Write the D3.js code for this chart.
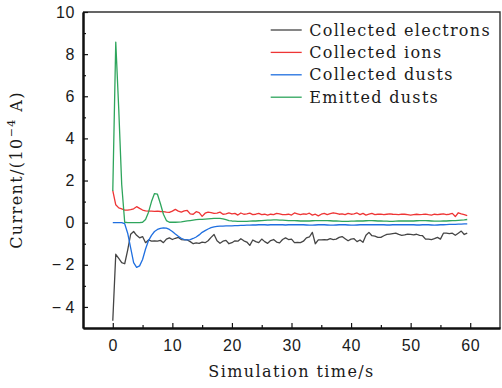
<!DOCTYPE html>
<html>
<head>
<meta charset="utf-8">
<script src="https://cdn.jsdelivr.net/npm/d3@7"></script>
<style>
  body { margin: 0; background: #fff; }
  svg { display: block; font-family: "DejaVu Serif", serif; }
</style>
</head>
<body>
<svg id="chart" width="502" height="388"></svg>
<script>
// sampling step of the simulation output (s)
const STEP = 0.5;

const seriesNames = ['Collected electrons', 'Collected ions', 'Collected dusts', 'Emitted dusts'];
const seriesColors = ['#454545', '#ee3535', '#1f6fe0', '#2ea55c'];

// one row = 5 s
const electrons = [
  -4.66, -1.5, -1.7, -1.9, -1.95, -1.3, -0.55, -0.42, -0.6, -0.72,
  -0.66, -0.95, -0.82, -0.88, -0.86, -0.88, -0.84, -0.95, -0.78, -0.72,
  -0.8, -0.74, -0.7, -0.8, -0.82, -0.82, -0.9, -1.0, -0.96, -0.98,
  -0.92, -0.95, -0.86, -0.7, -0.56, -0.86, -0.98, -0.88, -0.84, -1.0,
  -0.95, -0.86, -0.88, -0.76, -0.86, -0.92, -1.08, -0.82, -0.9, -0.95,
  -0.78, -0.9, -0.98, -0.85, -0.8, -0.92, -0.96, -0.8, -0.72, -0.8,
  -0.78, -0.95, -0.94, -0.95, -0.88, -0.72, -0.68, -0.46, -1.0, -0.82,
  -0.82, -0.8, -0.82, -0.76, -0.8, -0.78, -0.7, -0.66, -0.76, -0.86,
  -0.78, -0.76, -0.9, -0.82, -0.93, -0.6, -0.46, -0.62, -0.64, -0.7,
  -0.7, -0.62, -0.56, -0.54, -0.52, -0.5, -0.56, -0.6, -0.58, -0.54,
  -0.56, -0.58, -0.55, -0.6, -0.62, -0.78, -0.78, -0.8, -0.76, -0.7,
  -0.78, -0.5, -0.5, -0.52, -0.5, -0.6, -0.5, -0.4, -0.56, -0.5
];

const ions = [
  1.52, 0.85, 0.7, 0.65, 0.6, 0.6, 0.62, 0.66, 0.76, 0.68,
  0.6, 0.56, 0.55, 0.55, 0.54, 0.55, 0.53, 0.52, 0.5, 0.49,
  0.55, 0.63, 0.55, 0.5, 0.56, 0.58, 0.42, 0.4, 0.52, 0.48,
  0.3, 0.45, 0.5, 0.48, 0.44, 0.45, 0.5, 0.4, 0.42, 0.46,
  0.42, 0.44, 0.36, 0.46, 0.4, 0.42, 0.45, 0.38, 0.4, 0.44,
  0.38, 0.4, 0.36, 0.4, 0.38, 0.44, 0.42, 0.38, 0.38, 0.4,
  0.36, 0.46, 0.42, 0.38, 0.42, 0.4, 0.45, 0.36, 0.4, 0.32,
  0.4, 0.44, 0.38, 0.43, 0.47, 0.44, 0.4, 0.42, 0.38, 0.44,
  0.4, 0.42, 0.46, 0.38, 0.44, 0.36, 0.4, 0.44, 0.38, 0.4,
  0.41, 0.38, 0.4, 0.42, 0.4, 0.39, 0.38, 0.41, 0.4, 0.38,
  0.36, 0.38, 0.4, 0.38, 0.39, 0.41, 0.38, 0.36, 0.4, 0.38,
  0.4, 0.42, 0.38, 0.4, 0.44, 0.29, 0.47, 0.42, 0.38, 0.33
];

const dusts = [
  0, 0, 0, 0, -0.05, -0.5, -1.2, -1.9, -2.12, -2.05,
  -1.75, -1.25, -0.85, -0.6, -0.42, -0.32, -0.27, -0.25, -0.26, -0.32,
  -0.42, -0.54, -0.65, -0.74, -0.8, -0.82, -0.8, -0.75, -0.68, -0.58,
  -0.46, -0.38, -0.3, -0.24, -0.2, -0.18, -0.16, -0.16, -0.15, -0.15,
  -0.15, -0.14, -0.14, -0.13, -0.13, -0.12, -0.12, -0.11, -0.11, -0.1,
  -0.1, -0.1, -0.11, -0.1, -0.1, -0.09, -0.1, -0.1, -0.11, -0.1,
  -0.1, -0.1, -0.09, -0.1, -0.1, -0.11, -0.12, -0.12, -0.11, -0.1,
  -0.1, -0.1, -0.11, -0.12, -0.12, -0.11, -0.1, -0.1, -0.1, -0.11,
  -0.12, -0.12, -0.11, -0.1, -0.1, -0.1, -0.1, -0.1, -0.09, -0.1,
  -0.1, -0.1, -0.11, -0.11, -0.1, -0.1, -0.09, -0.1, -0.1, -0.1,
  -0.1, -0.1, -0.11, -0.11, -0.1, -0.1, -0.1, -0.11, -0.12, -0.11,
  -0.1, -0.1, -0.09, -0.08, -0.08, -0.08, -0.07, -0.07, -0.06, -0.06
];

const emitted = [
  1.5, 8.57, 5.4, 1.8, 0.02, 0, 0, 0, 0, 0,
  0.02, 0.15, 0.5, 1.0, 1.38, 1.35, 0.9, 0.4, 0.1, 0.02,
  0.02, 0.02, 0.03, 0.04, 0.06, 0.08, 0.1, 0.12, 0.14, 0.16,
  0.16, 0.17, 0.18, 0.19, 0.2, 0.2, 0.2, 0.18, 0.14, 0.1,
  0.08, 0.07, 0.06, 0.06, 0.06, 0.06, 0.07, 0.08, 0.08, 0.09,
  0.1, 0.11, 0.12, 0.12, 0.13, 0.13, 0.12, 0.12, 0.11, 0.1,
  0.1, 0.1, 0.09, 0.08, 0.08, 0.08, 0.08, 0.09, 0.1, 0.1,
  0.1, 0.1, 0.1, 0.09, 0.08, 0.08, 0.07, 0.06, 0.06, 0.06,
  0.07, 0.07, 0.08, 0.08, 0.08, 0.09, 0.1, 0.1, 0.09, 0.08,
  0.08, 0.07, 0.07, 0.06, 0.06, 0.07, 0.08, 0.08, 0.08, 0.08,
  0.08, 0.08, 0.09, 0.1, 0.1, 0.1, 0.09, 0.08, 0.07, 0.07,
  0.07, 0.08, 0.08, 0.09, 0.1, 0.1, 0.11, 0.12, 0.13, 0.15
];

const xTicks = [0, 10, 20, 30, 40, 50, 60];
const yTicks = [-4, -2, 0, 2, 4, 6, 8, 10];

const allSeries = [electrons, ions, dusts, emitted];

const margin = {top: 12, right: 2, bottom: 60, left: 83},
  width = 502 - margin.left - margin.right,
  height = 388 - margin.top - margin.bottom;

const x = d3.scaleLinear().domain([-5, 65]).range([0, width]);
const y = d3.scaleLinear().domain([-5, 10]).range([height, 0]);

const svg = d3.select('#chart')
  .append('g')
  .attr('transform', 'translate(' + margin.left + ',' + margin.top + ')');

// lines
const line = d3.line()
  .x((d, i) => x(i * STEP))
  .y(d => y(d));

svg.selectAll('path.series')
  .data(allSeries)
  .enter().append('path')
  .attr('class', 'series')
  .attr('fill', 'none')
  .attr('stroke', (d, i) => seriesColors[i])
  .attr('stroke-width', 1.3)
  .attr('stroke-linejoin', 'round')
  .attr('d', line);

// frame (top / right)
svg.append('path')
  .attr('d', 'M0,0H' + width + 'V' + height)
  .attr('fill', 'none')
  .attr('stroke', '#333')
  .attr('stroke-width', 1.4);

// axes, ticks inward
const xAxis = d3.axisBottom(x).tickValues(xTicks).tickSizeInner(-5).tickSizeOuter(0).tickPadding(12);
const xMinor = d3.axisBottom(x).tickValues(d3.range(5, 60, 10)).tickSizeInner(-3).tickSizeOuter(0).tickFormat('');
const fmt = v => v < 0 ? '\u2212\u2009' + Math.abs(v) : '' + v;
const yAxis = d3.axisLeft(y).tickValues(yTicks).tickSizeInner(-5).tickSizeOuter(0).tickPadding(8).tickFormat(fmt);
const yMinor = d3.axisLeft(y).tickValues(d3.range(-3, 10, 2)).tickSizeInner(-3).tickSizeOuter(0).tickFormat('');

function styleAxis(g) {
  g.select('.domain').attr('stroke', '#111').attr('stroke-width', 2);
  g.selectAll('.tick line').attr('stroke', '#111').attr('stroke-width', 1.2);
  g.selectAll('.tick text').attr('fill', '#1a1a1a')
    .style('font-size', '16px').style('letter-spacing', '0.6px');
}

svg.append('g').attr('transform', 'translate(0,' + height + ')').call(xMinor).call(styleAxis);
svg.append('g').attr('transform', 'translate(0,' + height + ')').call(xAxis).call(styleAxis);
svg.append('g').call(yMinor).call(styleAxis);
svg.append('g').call(yAxis).call(styleAxis);

// axis titles
svg.append('text')
  .attr('x', width / 2)
  .attr('y', height + 49)
  .attr('text-anchor', 'middle')
  .style('font-size', '16px')
  .style('letter-spacing', '1.4px')
  .attr('fill', '#1a1a1a')
  .text('Simulation time/s');

const yLabel = svg.append('text')
  .attr('transform', 'translate(' + (-61) + ',' + (height / 2) + ') rotate(-90)')
  .attr('text-anchor', 'middle')
  .style('font-size', '16px')
  .style('letter-spacing', '1.4px')
  .attr('fill', '#1a1a1a');
yLabel.append('tspan').text('Current/(10');
yLabel.append('tspan').attr('dy', -7).style('font-size', '11px').text('\u22124');
yLabel.append('tspan').attr('dy', 7).text(' A)');

// legend
const legend = svg.append('g').attr('transform', 'translate(' + (270.7 - margin.left) + ',' + (30 - margin.top) + ')');
const item = legend.selectAll('g')
  .data(seriesNames)
  .enter().append('g')
  .attr('transform', (d, i) => 'translate(0,' + i * 22.4 + ')');
item.append('line')
  .attr('x1', 0).attr('x2', 31)
  .attr('stroke', (d, i) => seriesColors[i])
  .attr('stroke-width', 1.3);
item.append('text')
  .attr('x', 38.5)
  .attr('dy', '0.35em')
  .style('font-size', '16px')
  .style('letter-spacing', '1.3px')
  .attr('fill', '#1a1a1a')
  .text(d => d);
</script>
</body>
</html>
